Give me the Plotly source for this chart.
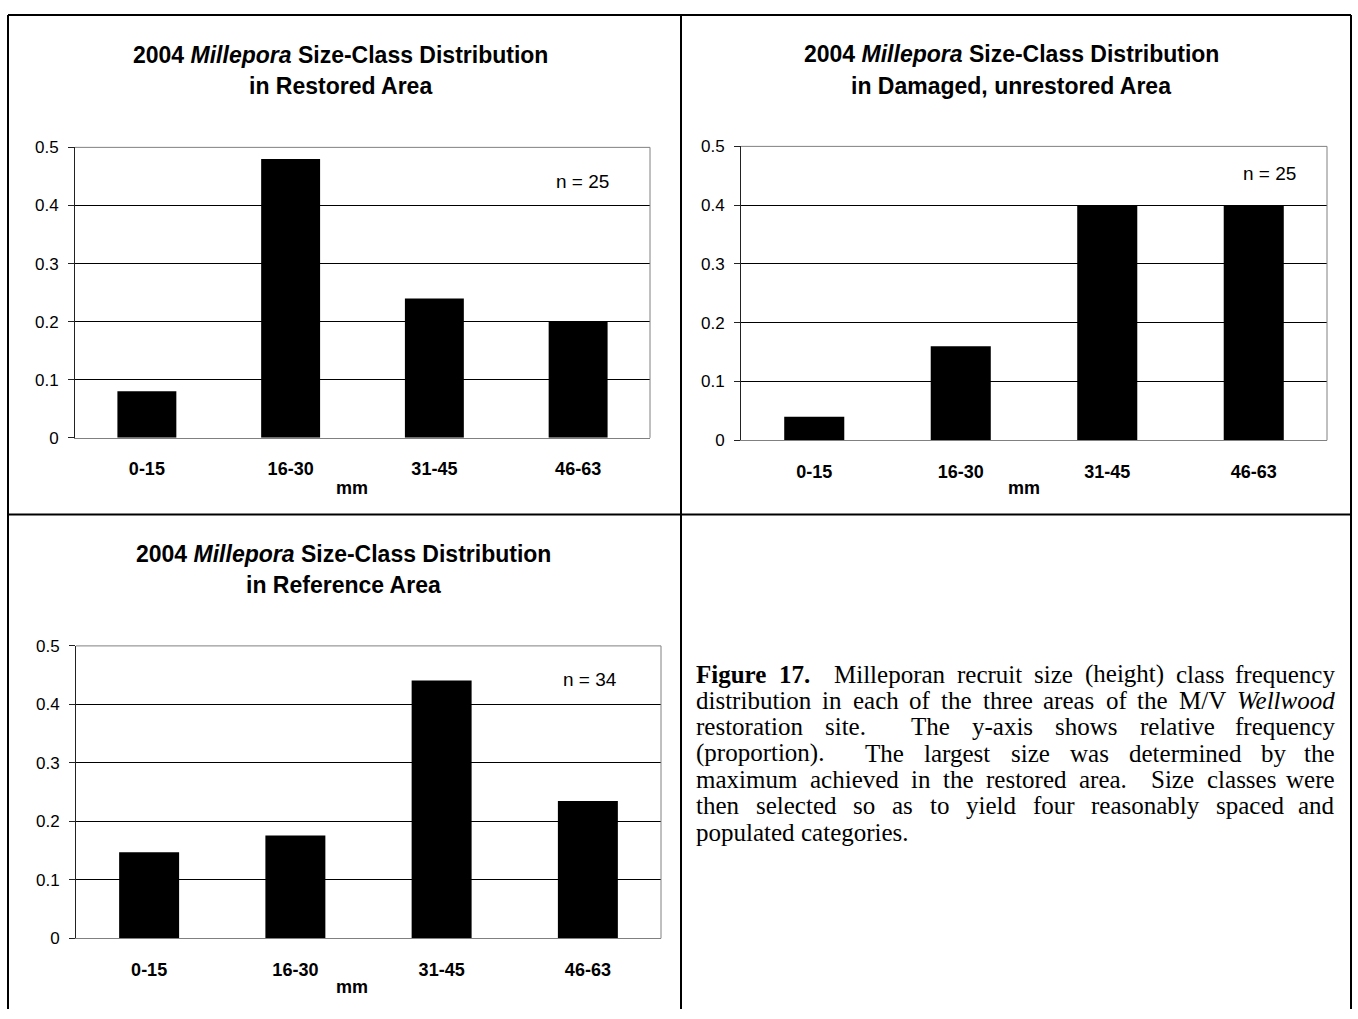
import plotly.graph_objects as go

W, H = 1358, 1019

# ---------------- data ----------------
categories = ["0-15", "16-30", "31-45", "46-63"]
restored = [0.08, 0.48, 0.24, 0.20]
damaged = [0.04, 0.16, 0.40, 0.40]
reference = [0.147, 0.176, 0.441, 0.235]
y_tick_vals = [0, 0.1, 0.2, 0.3, 0.4, 0.5]
y_tick_text = ["0", "0.1", "0.2", "0.3", "0.4", "0.5"]
title_line1 = "<b>2004 <i>Millepora</i> Size-Class Distribution</b>"
subtitles = ["in Restored Area", "in Damaged, unrestored Area", "in Reference Area"]
n_labels = ["n = 25", "n = 25", "n = 34"]
x_title = "mm"
caption_lines = [
    "Figure 17.  Milleporan recruit size (height) class frequency",
    "distribution in each of the three areas of the M/V Wellwood",
    "restoration site.  The y-axis shows relative frequency",
    "(proportion).  The largest size was determined by the",
    "maximum achieved in the restored area.  Size classes were",
    "then selected so as to yield four reasonably spaced and",
    "populated categories.",
]
caption_bold = {"Figure", "17."}
caption_italic = {"Wellwood"}

# ---------------- layout helpers ----------------
def fx(p):
    return p / W

def fy(p):
    return 1 - p / H

SANS = "Liberation Sans, Arial, sans-serif"
SERIF = "Liberation Serif, Times New Roman, serif"

# plot boxes in pixels: (x0, x1, ytop, ybottom)
boxes = [(75, 650, 141, 437), (741, 1327, 140, 439.5), (76, 661, 649, 947)]
title_pos = [(340.5, 47, 78), (1011, 46, 78), (343, 555, 587)]
n_pos = [(582.5, 176), (1269, 168), (590, 683)]
mm_pos = [(352, 488), (1024, 488), (352, 997)]
series = [restored, damaged, reference]

fig = go.Figure()
layout = dict(
    width=W, height=H, autosize=False,
    margin=dict(l=0, r=0, t=0, b=0, pad=0),
    paper_bgcolor="white", plot_bgcolor="white",
    showlegend=False, bargap=0.59,
)
annotations = []
shapes = []

for i, (vals, box) in enumerate(zip(series, boxes)):
    sfx = "" if i == 0 else str(i + 1)
    x0, x1, yt, yb = box
    fig.add_trace(go.Bar(
        x=categories, y=vals, xaxis="x" + sfx, yaxis="y" + sfx,
        marker=dict(color="black", line=dict(width=0)),
        hoverinfo="skip",
    ))
    layout["xaxis" + sfx] = dict(
        domain=[fx(x0), fx(x1)], anchor="y" + sfx,
        type="category", range=[-0.5, 3.5],
        showline=True, linecolor="#808080", linewidth=1,
        ticks="", showgrid=False, zeroline=False,
        tickfont=dict(family=SANS, size=18, color="black", weight="bold"),
        ticklabelstandoff=15,
    )
    layout["yaxis" + sfx] = dict(
        domain=[fy(yb), fy(yt)], anchor="x" + sfx,
        range=[0, 0.5], tickvals=y_tick_vals, ticktext=y_tick_text,
        showline=True, linecolor="#222222", linewidth=1,
        ticks="outside", ticklen=6, tickcolor="#222222", tickwidth=1,
        showgrid=True, gridcolor="black", gridwidth=1, zeroline=False,
        tickfont=dict(family=SANS, size=17, color="black"),
        ticklabelstandoff=6,
    )
    # grey frame on top and right of plot area
    xr, yr = "x" + sfx + " domain", "y" + sfx + " domain"
    shapes.append(dict(type="line", xref=xr, yref=yr, x0=0, x1=1, y0=1, y1=1,
                       line=dict(color="#808080", width=1), layer="above"))
    shapes.append(dict(type="line", xref=xr, yref=yr, x0=1, x1=1, y0=0, y1=1,
                       line=dict(color="#808080", width=1), layer="above"))
    # titles
    tx, ty1, ty2 = title_pos[i]
    annotations.append(dict(text=title_line1, x=fx(tx), y=fy(ty1), xref="paper", yref="paper",
                            xanchor="center", yanchor="middle", showarrow=False,
                            font=dict(family=SANS, size=23, color="black")))
    annotations.append(dict(text="<b>" + subtitles[i] + "</b>", x=fx(tx), y=fy(ty2),
                            xref="paper", yref="paper", xanchor="center", yanchor="middle",
                            showarrow=False, font=dict(family=SANS, size=23, color="black")))
    nx, ny = n_pos[i]
    annotations.append(dict(text=n_labels[i], x=fx(nx), y=fy(ny), xref="paper", yref="paper",
                            xanchor="center", yanchor="middle", showarrow=False,
                            font=dict(family=SANS, size=19, color="black")))
    mx, my = mm_pos[i]
    annotations.append(dict(text="<b>" + x_title + "</b>", x=fx(mx), y=fy(my), xref="paper",
                            yref="paper", xanchor="center", yanchor="middle", showarrow=False,
                            font=dict(family=SANS, size=18, color="black")))

# ---------------- caption (justified, word by word) ----------------
REG = dict(zip("abcdefghijklmnopqrstuvwxyz",
               [444, 500, 444, 500, 444, 333, 500, 500, 278, 278, 500, 278, 778,
                500, 500, 500, 500, 333, 389, 278, 500, 500, 722, 500, 500, 444]))
REG.update(dict(zip("ABCDEFGHIJKLMNOPQRSTUVWXYZ",
                    [722, 667, 667, 722, 611, 556, 722, 722, 333, 389, 722, 611, 889,
                     722, 722, 556, 722, 667, 556, 611, 722, 722, 944, 722, 722, 611])))
REG.update({c: 500 for c in "0123456789"})
REG.update({".": 250, ",": 250, "(": 333, ")": 333, "-": 333, "/": 278, " ": 250})
BOLD = dict(REG)
BOLD.update({"F": 611, "u": 556, "r": 444})
ITAL = dict(REG)
ITAL.update({"W": 833, "w": 667})

CAP_FS = 25
cap_left, cap_right = 695, 1336
cap_top, cap_step = 678, 26.8

def token_width(tok):
    tab = BOLD if tok in caption_bold else (ITAL if tok in caption_italic else REG)
    return sum(tab.get(c, 500) for c in tok) * CAP_FS / 1000.0

def token_markup(tok):
    if tok in caption_bold:
        return "<b>" + tok + "</b>"
    if tok in caption_italic:
        return "<i>" + tok + "</i>"
    return tok

for li, line in enumerate(caption_lines):
    toks = line.split(" ")
    nsp = len(toks) - 1
    sp = 250 * CAP_FS / 1000.0
    natural = sum(token_width(t) for t in toks) + nsp * sp
    justify = li < len(caption_lines) - 1
    extra = (cap_right - cap_left - natural) / nsp if (justify and nsp > 0) else 0
    ypx = cap_top + li * cap_step
    xpos = cap_left
    for ti, tok in enumerate(toks):
        if tok:
            last = justify and ti == len(toks) - 1
            annotations.append(dict(
                text=token_markup(tok), x=fx(cap_right if last else xpos), y=fy(ypx),
                xref="paper", yref="paper", xanchor="right" if last else "left",
                yanchor="middle", showarrow=False, borderpad=0,
                font=dict(family=SERIF, size=CAP_FS, color="black")))
        xpos += token_width(tok) + sp + extra

# ---------------- table borders ----------------
def border(xa, ya, xb, yb):
    shapes.append(dict(type="line", xref="paper", yref="paper",
                       x0=fx(xa), y0=fy(ya), x1=fx(xb), y1=fy(yb),
                       line=dict(color="black", width=2), layer="above"))

border(8, 6, 1351, 6)
border(8, 6, 8, 1019)
border(1351, 6, 1351, 1019)
border(8, 515, 1351, 515)
border(681, 6, 681, 1019)

layout["annotations"] = annotations
layout["shapes"] = shapes
fig.update_layout(**layout)
fig.write_html(
    "out.html",
    config={"displayModeBar": False},
    post_script="document.body.style.margin='0';document.body.style.overflow='hidden';",
)
